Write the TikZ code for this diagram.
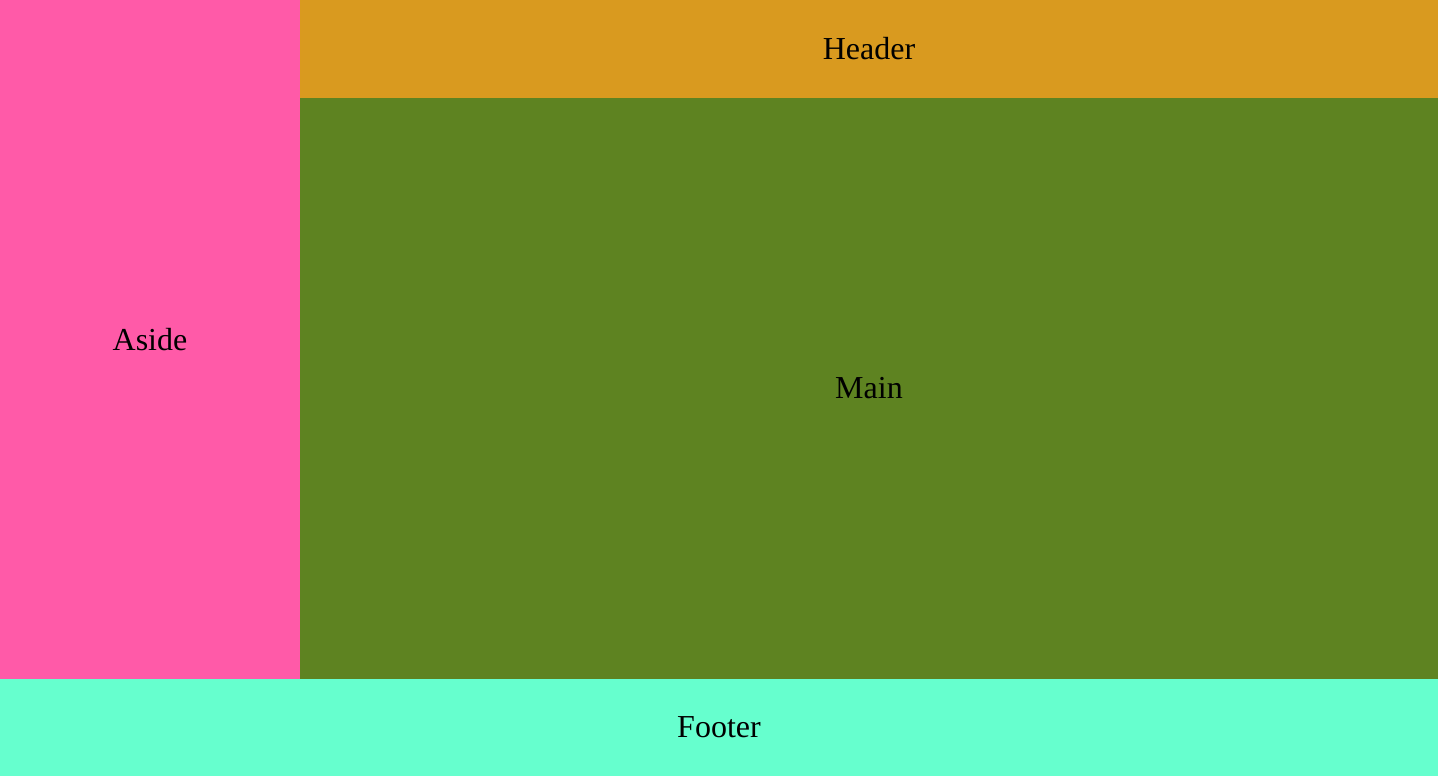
\documentclass[tikz,border=0pt]{standalone}
\usepackage{fontspec}
\setmainfont{Liberation Serif}
\definecolor{asidepink}{HTML}{FF5AA8}
\definecolor{headergold}{HTML}{D99A1F}
\definecolor{mainolive}{HTML}{5E8321}
\definecolor{footeraqua}{HTML}{66FFCE}
\tikzset{
  region/.style={inner sep=0pt,outer sep=0pt,anchor=north west,
    font=\fontsize{32}{38}\selectfont,text=black}
}
\begin{document}
\begin{tikzpicture}[x=1pt,y=1pt]
\useasboundingbox (0,0) rectangle (1438,-776);
\node[region,fill=asidepink,minimum width=300pt,minimum height=679pt] (aside) at (0,0) {Aside};
\node[region,fill=headergold,minimum width=1138pt,minimum height=98pt] (header) at (300,0) {Header};
\node[region,fill=mainolive,minimum width=1138pt,minimum height=581pt] (main) at (300,-98) {Main};
\node[region,fill=footeraqua,minimum width=1438pt,minimum height=97pt] (footer) at (0,-679) {Footer};
\end{tikzpicture}
\end{document}
